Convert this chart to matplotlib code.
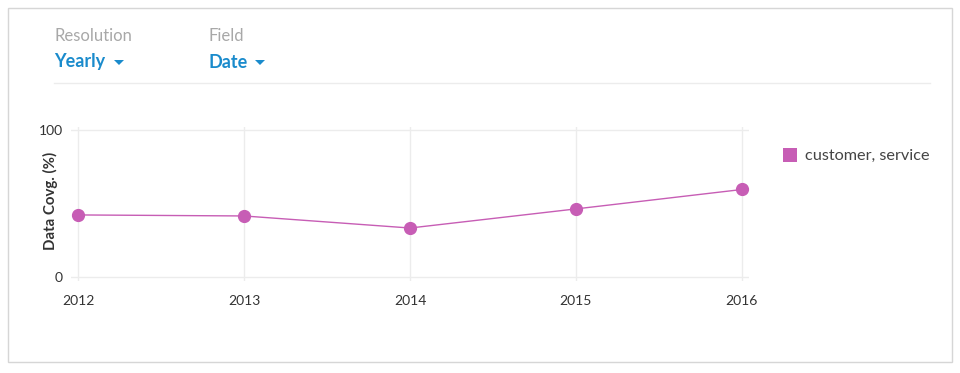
import matplotlib
matplotlib.use("Agg")
import matplotlib.pyplot as plt
from matplotlib.patches import Rectangle, Polygon
from matplotlib.lines import Line2D

plt.rcParams['font.family'] = ['Lato', 'DejaVu Sans']

years = [2012, 2013, 2014, 2015, 2016]
coverage = [42.2, 41.5, 33.3, 46.3, 59.5]
series_name = "customer, service"
y_ticks = [0, 100]

W, H = 960, 373
fig = plt.figure(figsize=(W / 100, H / 100), dpi=100)

def fx(px):
    return px / W

def fy(py):
    return 1 - py / H

# outer frame
fig.patches.append(Rectangle((fx(8), fy(362)), fx(944), (354) / H, transform=fig.transFigure,
                             fill=False, edgecolor='#d6d6d6', linewidth=1.0))

# header controls
grey = '#a8a8a8'
blue = '#1a8bcc'
fig.text(fx(54), fy(36), "Resolution", color=grey, fontsize=12, va='center', ha='left')
fig.text(fx(54), fy(62), "Yearly", color=blue, fontsize=13, fontweight='bold', va='center', ha='left')
fig.text(fx(208), fy(36), "Field", color=grey, fontsize=12, va='center', ha='left')
fig.text(fx(208), fy(62), "Date", color=blue, fontsize=13, fontweight='bold', va='center', ha='left')
for x0 in (114, 255):
    fig.patches.append(Polygon([(fx(x0), fy(60)), (fx(x0 + 10), fy(60)), (fx(x0 + 5), fy(65))],
                               closed=True, transform=fig.transFigure, facecolor=blue, edgecolor='none'))
fig.lines.append(Line2D([fx(54), fx(930)], [fy(83), fy(83)], transform=fig.transFigure,
                        color='#ececec', linewidth=1.0))

# axes
left, right = 71.4, 748.6
top, bottom = 127.0, 281.4
ax = fig.add_axes([fx(left), fy(bottom), (right - left) / W, (bottom - top) / H])
ax.set_xlim(2011.96, 2016.04)
ax.set_ylim(-3, 102)
for s in ax.spines.values():
    s.set_visible(False)

for yv in y_ticks:
    ax.axhline(yv, color='#ececec', linewidth=1.0, zorder=0)
for xv in years:
    ax.axvline(xv, color='#ececec', linewidth=1.0, zorder=0)

color = '#c75db5'
ax.plot(years, coverage, color=color, linewidth=1.0, marker='o', markersize=8.5, zorder=3)

ax.set_xticks(years)
ax.set_xticklabels([str(y) for y in years])
ax.set_yticks(y_ticks)
ax.tick_params(axis='both', length=0, labelsize=10, colors='#333333')
ax.tick_params(axis='x', pad=10)
ax.tick_params(axis='y', pad=6)
ax.set_ylabel("Data Covg. (%)", fontsize=10.8, fontweight='bold', color='#333333')
ax.yaxis.set_label_coords((58 - left) / (right - left), (bottom - 201) / (bottom - top))

# legend
fig.patches.append(Rectangle((fx(783), fy(162)), 14 / W, 14 / H, transform=fig.transFigure,
                             facecolor=color, edgecolor='none'))
fig.text(fx(805), fy(156), series_name, color='#444444', fontsize=11.7, va='center', ha='left')

fig.savefig("out.png", dpi=100)
